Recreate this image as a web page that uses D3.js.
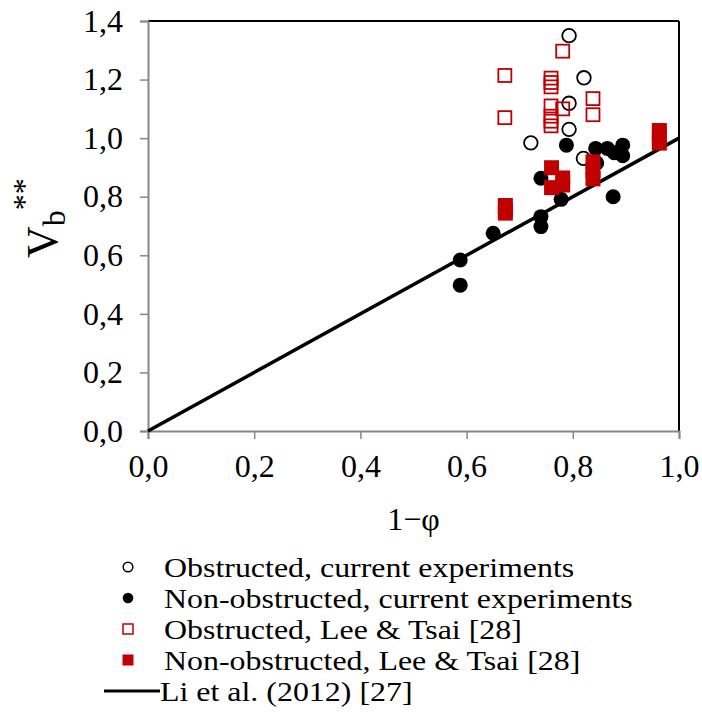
<!DOCTYPE html>
<html><head><meta charset="utf-8">
<script src="https://cdn.jsdelivr.net/npm/d3@7"></script>
<style>body{margin:0;background:#fff}svg,svg text{font-family:"Liberation Serif","Times New Roman",serif}</style>
</head><body><svg id="c" width="702" height="715"></svg>
<script>
const xTicks = [0, 0.2, 0.4, 0.6, 0.8, 1.0];
const yTicks = [0, 0.2, 0.4, 0.6, 0.8, 1.0, 1.2, 1.4];
const obsCurX = [0.793, 0.821, 0.793, 0.793, 0.721, 0.820];
const obsCurY = [1.350, 1.206, 1.119, 1.030, 0.984, 0.931];
const nonCurX = [0.588, 0.588, 0.650, 0.740, 0.740, 0.778, 0.740, 0.788, 0.843, 0.865, 0.894, 0.894, 0.878, 0.845, 0.876];
const nonCurY = [0.498, 0.584, 0.675, 0.732, 0.698, 0.791, 0.863, 0.976, 0.965, 0.965, 0.976, 0.940, 0.950, 0.915, 0.800];
const obsLTX = [0.781, 0.672, 0.759, 0.759, 0.759, 0.838, 0.838, 0.672, 0.759, 0.781, 0.759, 0.759, 0.759];
const obsLTY = [1.297, 1.214, 1.205, 1.190, 1.175, 1.135, 1.080, 1.070, 1.110, 1.100, 1.075, 1.058, 1.042];
const nonLTX = [0.673, 0.673, 0.673, 0.760, 0.760, 0.781, 0.781, 0.838, 0.838, 0.838, 0.963, 0.963, 0.963];
const nonLTY = [0.770, 0.757, 0.744, 0.899, 0.831, 0.864, 0.840, 0.919, 0.890, 0.861, 1.026, 1.005, 0.983];
const lineX = [0, 1];
const lineY = [0, 1];
const legendLabels = ["Obstructed, current experiments", "Non-obstructed, current experiments", "Obstructed, Lee & Tsai [28]", "Non-obstructed, Lee & Tsai [28]", "Li et al. (2012) [27]"];

const RED = "#c00000";
const FONT = "Liberation Serif";
const svg = d3.select("#c");
const x = d3.scaleLinear().domain([0, 1]).range([148, 679]);
const y = d3.scaleLinear().domain([0, 1.4]).range([431, 21]);

svg.append("line").attr("x1", 148).attr("x2", 679).attr("y1", 21).attr("y2", 21).attr("stroke", "#000").attr("stroke-width", 2);
svg.append("line").attr("x1", 679).attr("x2", 679).attr("y1", 21).attr("y2", 431).attr("stroke", "#000").attr("stroke-width", 2);

const fmt = d => d3.format(".1f")(d).replace(".", ",");
const xAxis = svg.append("g").attr("transform", "translate(0,431)")
  .call(d3.axisBottom(x).tickValues(xTicks).tickSize(8).tickPadding(15).tickFormat(fmt));
const yAxis = svg.append("g").attr("transform", "translate(148,0)")
  .call(d3.axisLeft(y).tickValues(yTicks).tickSize(8).tickPadding(17).tickFormat(fmt));
[xAxis, yAxis].forEach(a => {
  a.attr("font-family", FONT).attr("font-size", 32);
  a.select(".domain").attr("stroke", "#868686").attr("stroke-width", 2);
  a.selectAll(".tick line").attr("stroke", "#868686").attr("stroke-width", 1.5);
  a.selectAll("text").attr("fill", "#000").style("font-family", FONT).style("font-size", "32px");
});

svg.append("path").datum(lineX.map((v, i) => [v, lineY[i]]))
  .attr("d", d3.line().x(d => x(d[0])).y(d => y(d[1])))
  .attr("stroke", "#000").attr("stroke-width", 3.5).attr("fill", "none");

const pts = (xs, ys) => xs.map((v, i) => ({x: v, y: ys[i]}));
svg.append("g").selectAll("circle").data(pts(obsCurX, obsCurY)).join("circle")
  .attr("cx", d => x(d.x)).attr("cy", d => y(d.y)).attr("r", 6.8)
  .attr("fill", "#fff").attr("stroke", "#000").attr("stroke-width", 1.8);
svg.append("g").selectAll("circle").data(pts(nonCurX, nonCurY)).join("circle")
  .attr("cx", d => x(d.x)).attr("cy", d => y(d.y)).attr("r", 7.5).attr("fill", "#000");
svg.append("g").selectAll("rect").data(pts(obsLTX, obsLTY)).join("rect")
  .attr("x", d => x(d.x) - 6.5).attr("y", d => y(d.y) - 6.5).attr("width", 13).attr("height", 13)
  .attr("fill", "none").attr("stroke", RED).attr("stroke-width", 1.8);
svg.append("g").selectAll("rect").data(pts(nonLTX, nonLTY)).join("rect")
  .attr("x", d => x(d.x) - 7.5).attr("y", d => y(d.y) - 7.5).attr("width", 15).attr("height", 15)
  .attr("fill", RED);

svg.append("text").attr("x", x(0.5)).attr("y", 530).attr("text-anchor", "middle").attr("font-size", 32).text("1\u2212\u03c6");
const yl = svg.append("text").attr("transform", "translate(57,258) rotate(-90)").attr("text-anchor", "start").attr("font-size", 44);
yl.append("tspan").text("V");
yl.append("tspan").attr("font-size", 32).attr("dy", 8).text("b");
yl.append("tspan").attr("font-size", 32).attr("dy", -30).text("**");

const lg = svg.append("g");
legendLabels.forEach((t, i) => {
  const cy = 567 + i * 31;
  if (i === 0) lg.append("circle").attr("cx", 128).attr("cy", cy).attr("r", 4.8).attr("fill", "#fff").attr("stroke", "#000").attr("stroke-width", 1.5);
  if (i === 1) lg.append("circle").attr("cx", 128).attr("cy", cy).attr("r", 5.3).attr("fill", "#000");
  if (i === 2) lg.append("rect").attr("x", 123).attr("y", cy - 5).attr("width", 10).attr("height", 10).attr("fill", "none").attr("stroke", RED).attr("stroke-width", 1.5);
  if (i === 3) lg.append("rect").attr("x", 122.5).attr("y", cy - 5.5).attr("width", 11).attr("height", 11).attr("fill", RED);
  if (i === 4) lg.append("line").attr("x1", 104).attr("x2", 160).attr("y1", cy).attr("y2", cy).attr("stroke", "#000").attr("stroke-width", 3);
  lg.append("g").attr("transform", `translate(${i === 4 ? 160 : 164},${cy}) scale(1.14,1)`)
    .append("text").attr("dy", "0.35em").attr("font-size", 28).text(t);
});
</script></body></html>
